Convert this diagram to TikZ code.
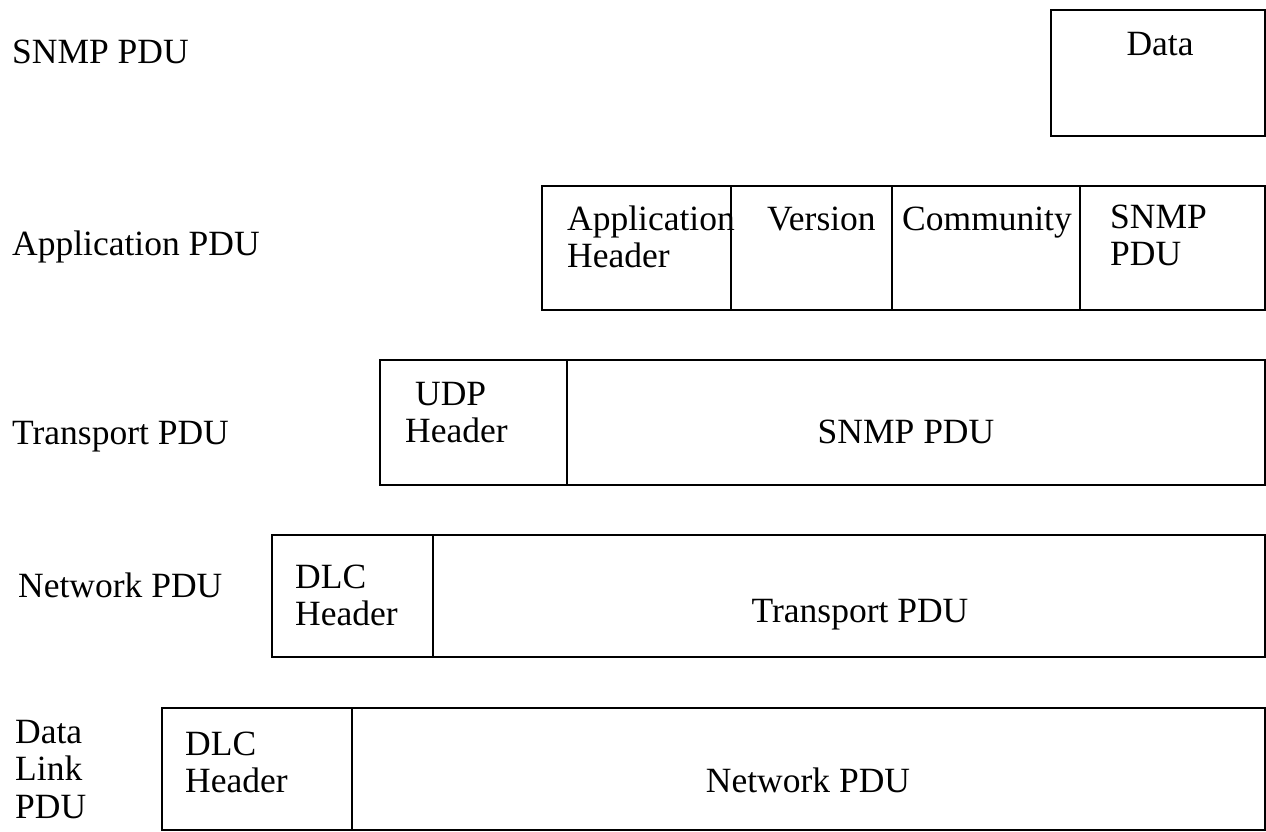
\documentclass[tikz,border=0pt]{standalone}
\usepackage{fontspec}
\setmainfont{Liberation Serif}
% stacked lines whose baseline is that of the first line
\newcommand{\stacklines}[1]{\begin{tabular}[t]{@{}l@{}}#1\end{tabular}}
\begin{document}
\begin{tikzpicture}[x=1pt,y=-1pt,
  frame/.style={draw=black, line width=2.4pt},
  divider/.style={draw=black, line width=2pt},
  txt/.style={inner sep=0pt, font=\fontsize{35.5}{37.5}\selectfont},
  lbl/.style={txt, anchor=base west},
  mid/.style={txt, anchor=base}]
\useasboundingbox (0,0) rectangle (1266,831);

% layer names on the left
\node[lbl] (lsnmp) at (12,63) {SNMP PDU};
\node[lbl] (lapp) at (12,255) {Application PDU};
\node[lbl] (ltrans) at (12,444) {Transport PDU};
\node[lbl] (lnet) at (18,597) {Network PDU};
\node[lbl] (ldl) at (15,743) {\stacklines{Data\\Link\\PDU}};

% SNMP PDU
\draw[frame] (1264.8,10) -- (1051,10) -- (1051,136) -- (1264.8,136) -- cycle;
\node[mid] (data) at (1160,55) {Data};

% Application PDU
\draw[frame] (542,186) rectangle (1264.8,310);
\draw[divider] (731,186) -- (731,310);
\draw[divider] (892,186) -- (892,310);
\draw[divider] (1080,186) -- (1080,310);
\node[lbl] (apphdr) at (567,230) {\stacklines{Application\\Header}};
\node[lbl] (version) at (767,230) {Version};
\node[lbl] (community) at (902,230) {Community};
\node[lbl] (appsnmp) at (1110,228) {\stacklines{SNMP\\PDU}};

% Transport PDU
\draw[frame] (380,360) rectangle (1264.8,485);
\draw[divider] (567,360) -- (567,485);
\node[lbl] (udphdr) at (405,405) {\stacklines{\hspace{10pt}UDP\\Header}};
\node[mid] (transsnmp) at (906,443) {SNMP PDU};

% Network PDU
\draw[frame] (272,535) rectangle (1264.8,657);
\draw[divider] (433,535) -- (433,657);
\node[lbl] (nethdr) at (295,588) {\stacklines{DLC\\Header}};
\node[mid] (nettrans) at (860,622) {Transport PDU};

% Data link PDU
\draw[frame] (162,708) rectangle (1264.8,829.8);
\draw[divider] (352,708) -- (352,829.8);
\node[lbl] (dlhdr) at (185,755) {\stacklines{DLC\\Header}};
\node[mid] (dlnet) at (808,792) {Network PDU};
\end{tikzpicture}
\end{document}
